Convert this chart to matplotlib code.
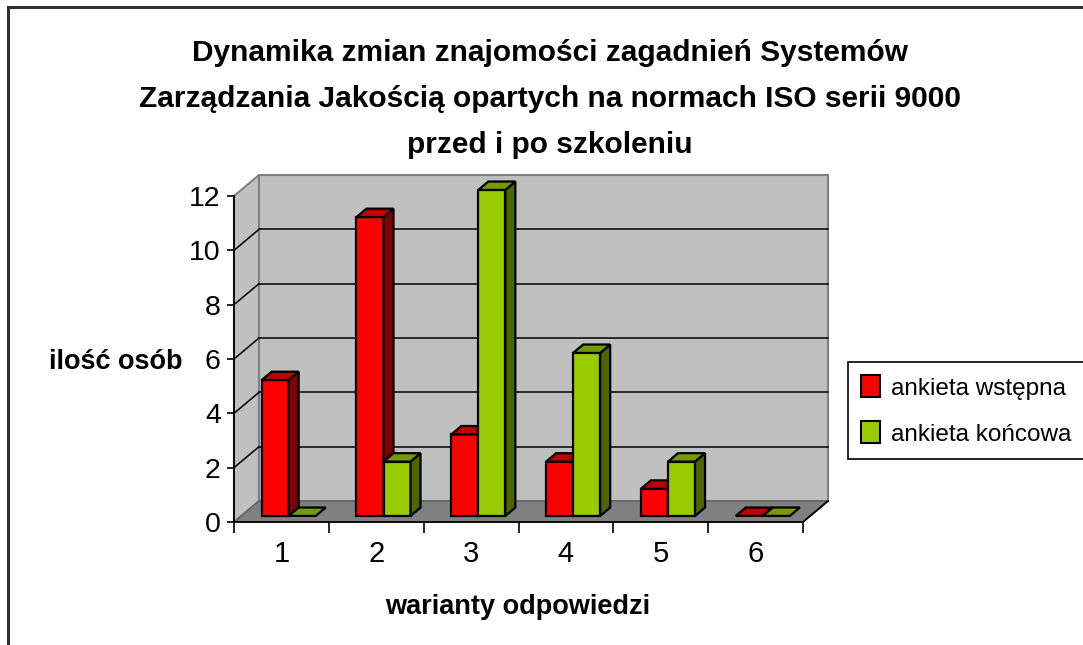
import matplotlib.pyplot as plt
from matplotlib.patches import Polygon, Patch

plt.rcParams['font.family'] = ['Liberation Sans', 'DejaVu Sans']

# data
categories = ['1', '2', '3', '4', '5', '6']
wstepna = [5, 11, 3, 2, 1, 0]
koncowa = [0, 2, 12, 6, 2, 0]
series_names = ['ankieta wstępna', 'ankieta końcowa']
y_ticks = [0, 2, 4, 6, 8, 10, 12]

# (front, side, top) colours per series
colors = [('#ff0000', '#800000', '#c00000'),
          ('#99cc00', '#4d6600', '#739a00')]

W, H = 1083, 645
fig = plt.figure(figsize=(W / 100, H / 100), dpi=100)

# outer chart frame (left and top edges visible only)
fig.add_artist(plt.Line2D([8 / W, 8 / W], [0, 1 - 7 / H], color='#303030', lw=2.2))
fig.add_artist(plt.Line2D([8 / W, 1], [1 - 7 / H, 1 - 7 / H], color='#303030', lw=2.2))

# front plane of the 3d box
ax = fig.add_axes([234 / W, (H - 522) / H, (803 - 234) / W, (522 - 196) / H])
n = len(categories)
ymax = 12
ax.set_xlim(0, n)
ax.set_ylim(0, ymax)
for s in ax.spines.values():
    s.set_visible(False)
ax.patch.set_visible(False)

# depth offset in data units
DX = 25 / 94.8
DY = 21 / 27.17

def poly(pts, fc, ec, lw=1.0, z=1):
    ax.add_patch(Polygon(pts, closed=True, facecolor=fc, edgecolor=ec,
                         linewidth=lw, clip_on=False, zorder=z, joinstyle='miter'))

# walls and floor
poly([(0, 0), (0, ymax), (DX, ymax + DY), (DX, DY)], '#c0c0c0', '#808080', 1.5)
poly([(DX, DY), (n + DX, DY), (n + DX, ymax + DY), (DX, ymax + DY)], '#c0c0c0', '#808080', 1.5)
poly([(0, 0), (n, 0), (n + DX, DY), (DX, DY)], '#808080', '#606060', 1.0)

# gridlines on back and side walls
for v in y_ticks[1:-1]:
    ax.plot([DX, n + DX], [v + DY, v + DY], color='black', lw=1.1, clip_on=False, zorder=2)
    ax.plot([0, DX], [v, v + DY], color='black', lw=1.1, clip_on=False, zorder=2)
ax.plot([n, n + DX], [0, DY], color='black', lw=1.3, clip_on=False, zorder=2)
ax.plot([0, 0], [0, ymax], color='black', lw=1.3, clip_on=False, zorder=2)
ax.plot([0, n], [0, 0], color='black', lw=1.3, clip_on=False, zorder=2)

# 3d bars
bw = 0.285
d0, d1 = 0.29, 0.69
for i in range(n):
    for k, vals in enumerate([wstepna, koncowa]):
        v = vals[i]
        x0 = i + 0.5 - bw + k * bw + d0 * DX
        x1 = x0 + bw
        y0 = d0 * DY
        ddx = (d1 - d0) * DX
        ddy = (d1 - d0) * DY
        front, side, top = colors[k]
        z = 3 + i * 2 + k
        if v > 0:
            poly([(x0, y0), (x1, y0), (x1, y0 + v), (x0, y0 + v)], front, 'black', 1.6, z)
            poly([(x1, y0), (x1 + ddx, y0 + ddy), (x1 + ddx, y0 + v + ddy), (x1, y0 + v)],
                 side, 'black', 1.6, z)
        poly([(x0, y0 + v), (x1, y0 + v), (x1 + ddx, y0 + v + ddy), (x0 + ddx, y0 + v + ddy)],
             top, 'black', 1.6, z)

# ticks
ax.set_yticks(y_ticks)
ax.tick_params(axis='y', direction='out', length=5, width=1.2, pad=4.5, labelsize=20.5)
ax.set_xticks(range(n + 1))
ax.set_xticklabels([])
ax.set_xticks([i + 0.5 for i in range(n)], minor=True)
ax.set_xticklabels(categories, minor=True)
ax.tick_params(axis='x', which='major', direction='out', length=8, width=1.2)
ax.tick_params(axis='x', which='minor', length=0, pad=13, labelsize=21)

fig.text(550 / W, 1 - 99 / H,
         'Dynamika zmian znajomości zagadnień Systemów\n'
         'Zarządzania Jakością opartych na normach ISO serii 9000\n'
         'przed i po szkoleniu',
         ha='center', va='center', fontsize=21.5, fontweight='bold', linespacing=1.8)
fig.text(116 / W, 1 - 362 / H, 'ilość osób', ha='center', va='center',
         fontsize=19.5, fontweight='bold')
fig.text(518 / W, 1 - 607 / H, 'warianty odpowiedzi', ha='center', va='center',
         fontsize=19.5, fontweight='bold')

handles = [Patch(facecolor=c[0], edgecolor='black', linewidth=1.5) for c in colors]
leg = fig.legend(handles, series_names, loc='upper left',
                 bbox_to_anchor=(848 / W, 1 - 362 / H), bbox_transform=fig.transFigure,
                 borderaxespad=0, fancybox=False, fontsize=17.5, handlelength=0.75,
                 handleheight=1.0, handletextpad=0.45, labelspacing=0.9,
                 borderpad=0.55, framealpha=1)
leg.get_frame().set_edgecolor('black')
leg.get_frame().set_linewidth(1.2)

fig.savefig('out.png', dpi=100)
